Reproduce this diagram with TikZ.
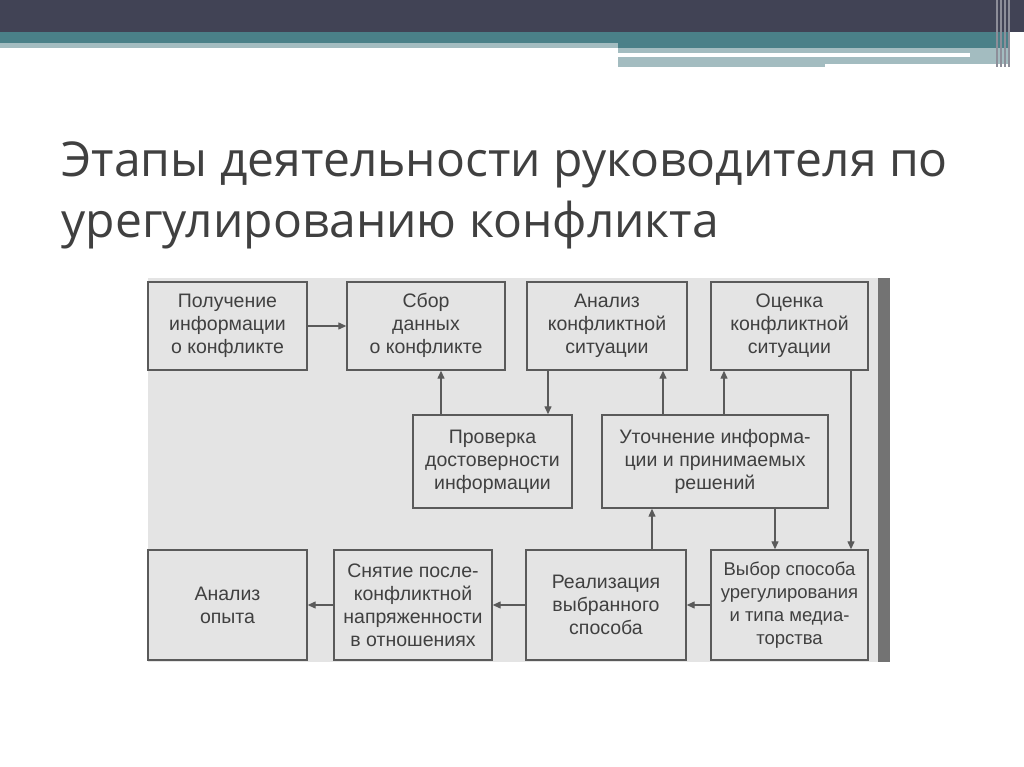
\documentclass[tikz,border=0pt]{standalone}
\usepackage{fontspec}
\setmainfont{Open Sans}
\newfontfamily\boxfont{Liberation Sans}
\usetikzlibrary{positioning,arrows.meta}
\definecolor{barDark}{HTML}{414355}
\definecolor{barTeal}{HTML}{4A8088}
\definecolor{barLight}{HTML}{A3BCC0}
\definecolor{figBack}{HTML}{E4E4E4}
\definecolor{boxLine}{HTML}{5A5A5A}
\tikzset{
    stage/.style={draw=boxLine, line width=1.4pt, fill=figBack, align=center,
        font=\boxfont\fontsize{19.5}{23}\selectfont, text=black!75, inner sep=0pt},
    flow/.style={-{Triangle[length=8pt,width=7pt]}, draw=boxLine, line width=1.3pt}
}
\begin{document}
\begin{tikzpicture}[x=1pt,y=-1pt]
    \useasboundingbox (0,0) rectangle (1024,767);
    \fill[white] (0,0) rectangle (1024,767);
    % Header bars
    \fill[barDark] (0,0) rectangle (1024,32);
    \fill[barTeal] (0,32) rectangle (1010,48);
    \fill[barLight] (0,43) rectangle (618,48);
    \fill[barLight] (618,48) rectangle (1010,67);
    \fill[white] (618,53) rectangle (970,57);
    \fill[white] (825,64) rectangle (1010,67);
    \foreach \x in {996,1000,1004,1008} \fill[barDark!60] (\x,0) rectangle (\x+1.5,67);

    % Title
    \node[anchor=base west, text=black!75, font=\fontsize{48}{56}\selectfont] (title1) at (58,177) {Этапы деятельности руководителя по};
    \node[anchor=base west, text=black!75, font=\fontsize{48}{56}\selectfont] (title2) at (58,237) {урегулированию конфликта};

    % Figure
    \fill[figBack] (148,278) rectangle (890,662);
    \fill[black!55] (878,278) rectangle (890,662);

    % Stages
    \node[stage, minimum width=159, minimum height=88] (get) at (227.5,326) {Получение\\информации\\о конфликте};
    \node[stage, minimum width=158, minimum height=88] (collect) at (426,326) {\strut Сбор\\данных\\о конфликте\strut};
    \node[stage, minimum width=160, minimum height=88] (analyze) at (607,326) {Анализ\\конфликтной\\ситуации};
    \node[stage, minimum width=157, minimum height=88] (assess) at (789.5,326) {Оценка\\конфликтной\\ситуации};
    \node[stage, minimum width=159, minimum height=93] (verify) at (492.5,461.5) {Проверка\\достоверности\\информации};
    \node[stage, minimum width=226, minimum height=93] (refine) at (715,461.5) {Уточнение информа-\\ции и принимаемых\\решений};
    \node[stage, minimum width=159, minimum height=110] (experience) at (227.5,605) {Анализ\\опыта};
    \node[stage, minimum width=158, minimum height=110] (relief) at (413,605) {Снятие после-\\конфликтной\\напряженности\\в отношениях};
    \node[stage, minimum width=160, minimum height=110] (implement) at (606,605) {Реализация\\выбранного\\способа};
    \node[stage, minimum width=157, minimum height=110, font=\boxfont\fontsize{18.5}{23}\selectfont] (choose) at (789.5,605) {Выбор способа\\урегулирования\\и типа медиа-\\торства};

    % Connectors
    \draw[flow] (get) -- (collect);
    \draw[flow] (verify.north -| 441,0) -- (collect.south -| 441,0);
    \draw[flow] (analyze.south -| 548,0) -- (verify.north -| 548,0);
    \draw[flow] (refine.north -| 663,0) -- (analyze.south -| 663,0);
    \draw[flow] (refine.north -| 724,0) -- (assess.south -| 724,0);
    \draw[flow] (assess.south -| 851,0) -- (choose.north -| 851,0);
    \draw[flow] (refine.south -| 775,0) -- (choose.north -| 775,0);
    \draw[flow] (implement.north -| 652,0) -- (refine.south -| 652,0);
    \draw[flow] (choose) -- (implement);
    \draw[flow] (implement) -- (relief);
    \draw[flow] (relief) -- (experience);
\end{tikzpicture}
\end{document}
